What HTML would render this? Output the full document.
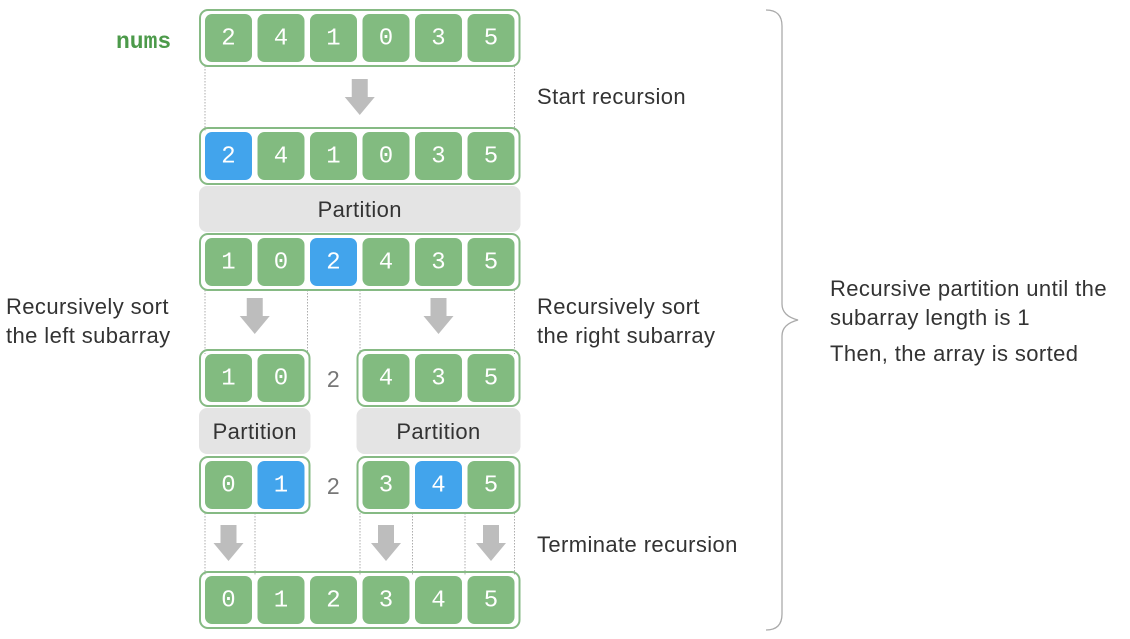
<!DOCTYPE html>
<html><head><meta charset="utf-8"><style>
html,body{margin:0;padding:0;background:#fff;width:1130px;height:639px;overflow:hidden}
svg{display:block}
.t{font-family:"Liberation Sans",sans-serif;font-size:22px;letter-spacing:0.4px;fill:#333}
.m{font-family:"Liberation Mono","DejaVu Sans Mono",monospace;font-size:24px;fill:#fff;text-anchor:middle;dominant-baseline:central}
</style></head><body>
<svg id="s" width="1130" height="639" xmlns="http://www.w3.org/2000/svg">
<text x="116" y="48" style="font-family:'Liberation Mono',monospace;font-weight:bold;font-size:23px;fill:#4c9a4a">nums</text>
<text class="t" x="537" y="104">Start recursion</text>
<text class="t" x="537" y="314">Recursively sort</text>
<text class="t" x="537" y="343">the right subarray</text>
<text class="t" x="6" y="314">Recursively sort</text>
<text class="t" x="6" y="343">the left subarray</text>
<text class="t" x="537" y="552">Terminate recursion</text>
<text class="t" x="830" y="296">Recursive partition until the</text>
<text class="t" x="830" y="325">subarray length is 1</text>
<text class="t" x="830" y="361">Then, the array is sorted</text>
<path d="M766 10 Q782 10 782 26 L782 304 Q782 316 798 320 Q782 324 782 336 L782 614 Q782 630 766 630" fill="none" stroke="#aaa" stroke-width="1.3"/>
</svg>
<script>
const S=document.getElementById('s');
const NS='http://www.w3.org/2000/svg';
const rows=[[2,4,1,0,3,5],[2,4,1,0,3,5],[1,0,2,4,3,5],[1,0,null,4,3,5],[0,1,null,3,4,5],[0,1,2,3,4,5]];
const pivots=[[],[0],[2],[],[1,4],[]];
const rowTops=[14,132,238,354,461,576];
const frames=[[[0,5]],[[0,5]],[[0,5]],[[0,1],[3,5]],[[0,1],[3,5]],[[0,5]]];
const partitions=[[186,[0,5]],[408,[0,1]],[408,[3,5]]];
const arrows=[[97,2.5],[316,0.5],[316,4],[543,0],[543,3],[543,5]];
const dots=[[66,132,[0,6]],[290,354,[0,2,3,6]],[513,576,[0,1,3,4,5,6]]];
const x0=205,pitch=52.5,cw=47,ch=48;
function cx(i){return x0+i*pitch;}
function mk(tag,attrs){const e=document.createElementNS(NS,tag);for(const k in attrs)e.setAttribute(k,attrs[k]);S.appendChild(e);return e;}
dots.forEach(d=>d[2].forEach(i=>{
  const x=i===6?cx(5)+cw:cx(i)-(i===0?0:2.5);
  const l=mk('line',{x1:x,x2:x,y1:d[0],y2:d[1],stroke:'#999','stroke-width':0.8,'stroke-dasharray':'1.5 1.5'});
  
  
}));
partitions.forEach(p=>{
  const x1=cx(p[1][0])-6,x2=cx(p[1][1])+cw+6;
  const r=mk('rect',{x:x1,y:p[0],width:x2-x1,height:46,rx:8,fill:'#e4e4e4'});
  
  
  const t=mk('text',{x:(x1+x2)/2,y:p[0]+31,'text-anchor':'middle',class:'t'});
  t.textContent='Partition';
  
  
});
rows.forEach((row,ri)=>{
  const y=rowTops[ri];
  frames[ri].forEach(f=>{
    const x1=cx(f[0])-5,x2=cx(f[1])+cw+5;
    const r=mk('rect',{x:x1,y:y-4,width:x2-x1,height:ch+8,rx:8,fill:'none',stroke:'#86ba84','stroke-width':2});
    
    
  });
  row.forEach((v,i)=>{
    if(v===null){
      const t=mk('text',{x:cx(i)+cw/2,y:y+ch/2+1,'text-anchor':'middle','dominant-baseline':'central',class:'t',style:'fill:#777;font-size:23px'});
      t.textContent='2';
      
      
      return;
    }
    const blue=pivots[ri].includes(i);
    const r=mk('rect',{x:cx(i),y:y,width:cw,height:ch,rx:7,fill:blue?'#42a4ec':'#82bb80'});
    
    
    const t=mk('text',{x:cx(i)+cw/2,y:y+ch/2+1,class:'m'});
    t.textContent=v;
    
    
  });
});
arrows.forEach(a=>{
  const x=cx(a[1])+cw/2;
  const y=a[0]-18;
  const p=mk('path',{d:`M${x-8} ${y} h16 v18 h7 l-15 18 l-15 -18 h7 z`,fill:'#bdbdbd'});
  
  
});
</script>
</body></html>
